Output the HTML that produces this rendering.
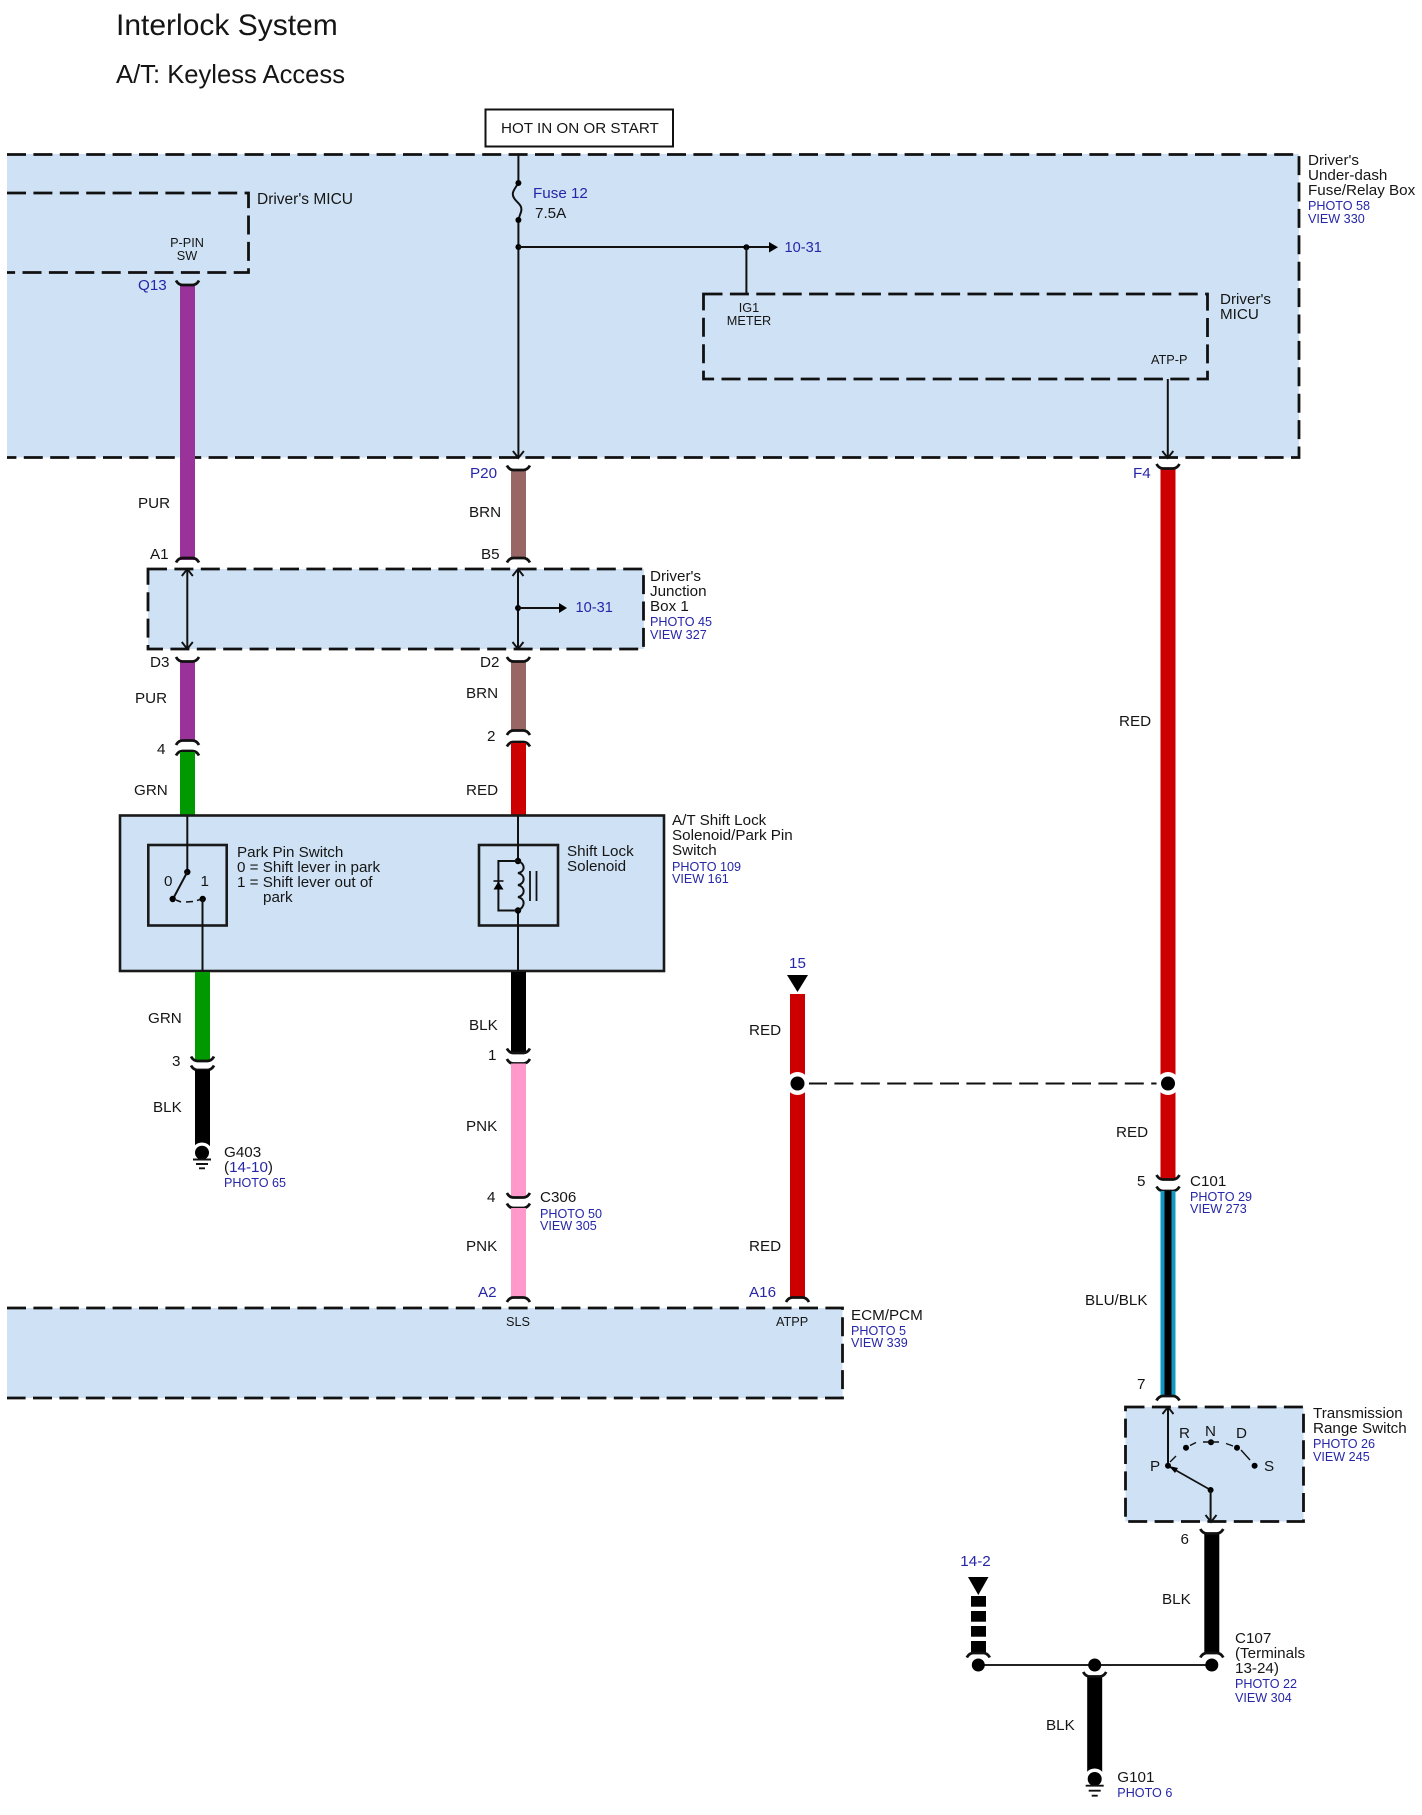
<!DOCTYPE html>
<html><head><meta charset="utf-8"><title>Interlock System</title>
<style>
html,body{margin:0;padding:0;background:#fff}
svg{display:block}
text{font-family:"Liberation Sans",sans-serif;font-size:15.2px;fill:#151515}
.b{fill:#2626a8}
.p{fill:#2626a8;font-size:12.6px}
.s{font-size:12.7px}
.m{text-anchor:middle}
.t{fill:none;stroke:#111;stroke-width:2}
.box{fill:#cfe2f5;stroke:none}
.d{fill:none;stroke:#111;stroke-width:2.8;stroke-dasharray:19 7.4}
.w{stroke:none}
.n{fill:#000}
</style></head><body>
<svg xmlns="http://www.w3.org/2000/svg" width="1422" height="1815" viewBox="0 0 1422 1815">
<defs>
<path id="cu" d="M-11.5,-4.5 Q-9,0 -5,0 H5 Q9,0 11.5,-4.5" fill="none" stroke="#111" stroke-width="2.8"/>
<path id="cd" d="M-11.5,4.5 Q-9,0 -5,0 H5 Q9,0 11.5,4.5" fill="none" stroke="#111" stroke-width="2.8"/>
<path id="au" d="M-5.5,7 L0,0 L5.5,7" fill="none" stroke="#111" stroke-width="1.9"/>
<path id="ad" d="M-5.5,-7 L0,0 L5.5,-7" fill="none" stroke="#111" stroke-width="1.9"/>
</defs>
<rect width="1422" height="1815" fill="#fff"/>

<!-- titles -->
<text x="116" y="35" style="font-size:30px">Interlock System</text>
<text x="116" y="83" style="font-size:25.6px">A/T: Keyless Access</text>

<!-- hot box -->
<rect x="485.5" y="109.5" width="187.5" height="37" fill="#fff" stroke="#111" stroke-width="2"/>
<text x="501" y="133">HOT IN ON OR START</text>

<!-- main box -->
<rect class="box" x="7" y="154" width="1292" height="303.5"/>
<path class="d" d="M7,154.5 H1299 V457.5 H7"/>
<!-- micu left -->
<path class="d" d="M7,193 H248.5 V272.5 H7"/>
<text x="257" y="204" style="font-size:15.5px">Driver's MICU</text>
<text class="s m" x="187" y="247">P-PIN</text>
<text class="s m" x="187" y="260">SW</text>
<!-- micu right -->
<path class="d" d="M703.5,294 H1207.5 V379 H703.5 Z"/>
<text x="1220" y="304">Driver's</text>
<text x="1220" y="319">MICU</text>
<text class="s m" x="749" y="312">IG1</text>
<text class="s m" x="749" y="325">METER</text>
<text class="s" x="1151" y="364">ATP-P</text>

<text x="1308" y="165">Driver's</text>
<text x="1308" y="180">Under-dash</text>
<text x="1308" y="195">Fuse/Relay Box</text>
<text class="p" x="1308" y="210">PHOTO 58</text>
<text class="p" x="1308" y="223">VIEW 330</text>

<!-- lines in main box -->
<path class="t" d="M518.4,154 V183 C514,190 511,193 514,198 C517,203 523,205 521,212 C520,215 519,217 518.4,220 V457"/>
<circle class="n" cx="518.4" cy="183" r="3"/><circle class="n" cx="518.4" cy="220" r="3"/>
<circle class="n" cx="518.4" cy="247" r="3"/>
<use href="#ad" x="518.4" y="458"/>
<path class="t" d="M518.4,247 H770"/>
<path class="n" d="M769,242 L778,247.3 L769,252.5 Z"/>
<circle class="n" cx="746.4" cy="247.3" r="3"/>
<path class="t" d="M746.4,247 V294"/>
<path class="t" d="M1167.8,379 V457"/>
<use href="#ad" x="1167.8" y="458"/>
<text x="533" y="198" class="b">Fuse 12</text>
<text x="535" y="218">7.5A</text>
<text x="784.5" y="252" class="b" style="font-size:14.6px">10-31</text>

<!-- purple wire -->
<rect class="w" x="180" y="284" width="15" height="276" fill="#993399"/>
<use href="#cu" x="187.5" y="285"/>
<use href="#cd" x="187.5" y="558"/>
<text x="138" y="290" class="b">Q13</text>
<text x="138" y="508">PUR</text>
<text x="150" y="559">A1</text>

<!-- brown wire -->
<rect class="w" x="511" y="469" width="15" height="90" fill="#996666"/>
<use href="#cu" x="518.4" y="470"/>
<use href="#cd" x="518.4" y="558"/>
<text x="470" y="478" class="b">P20</text>
<text x="469" y="517">BRN</text>
<text x="481" y="559">B5</text>

<!-- junction box -->
<rect class="box" x="148" y="569" width="496" height="80"/>
<path class="d" d="M148,569 H643.5 V649 H148 Z"/>
<path class="t" d="M187.3,569 V649"/><use href="#au" x="187.3" y="569"/><use href="#ad" x="187.3" y="649"/>
<path class="t" d="M518,569 V649"/><use href="#au" x="518" y="569"/><use href="#ad" x="518" y="649"/>
<circle class="n" cx="518" cy="608" r="3"/>
<path class="t" d="M518,608 H560"/>
<path class="n" d="M559,603 L567,608 L559,613 Z"/>
<text x="575.5" y="612" class="b" style="font-size:14.6px">10-31</text>
<text x="650" y="581">Driver's</text>
<text x="650" y="596">Junction</text>
<text x="650" y="611">Box 1</text>
<text class="p" x="650" y="626">PHOTO 45</text>
<text class="p" x="650" y="639">VIEW 327</text>

<!-- below JB -->
<rect class="w" x="180" y="661" width="15" height="80" fill="#993399"/>
<use href="#cu" x="187.5" y="661.5"/>
<use href="#cd" x="187.5" y="740.5"/>
<use href="#cd" x="187.5" y="751"/>
<rect class="w" x="180" y="752" width="15" height="64" fill="#009900"/>
<text x="150" y="667">D3</text>
<text x="135" y="703">PUR</text>
<text x="157" y="754">4</text>
<text x="134" y="795">GRN</text>

<rect class="w" x="511" y="661" width="15" height="70" fill="#996666"/>
<use href="#cu" x="518.4" y="661.5"/>
<use href="#cd" x="518.4" y="730.5"/>
<use href="#cd" x="518.4" y="742"/>
<rect class="w" x="511" y="743" width="15" height="73" fill="#cc0000"/>
<text x="480" y="667">D2</text>
<text x="466" y="698">BRN</text>
<text x="487" y="741">2</text>
<text x="466" y="795">RED</text>

<!-- solid component box -->
<rect x="120" y="815.5" width="544" height="155.5" fill="#cfe2f5" stroke="#1a1a1a" stroke-width="2.6"/>
<rect x="148.3" y="845" width="78.4" height="80.5" fill="none" stroke="#1a1a1a" stroke-width="2.6"/>
<rect x="479" y="845" width="79" height="80.5" fill="none" stroke="#1a1a1a" stroke-width="2.6"/>
<path class="t" d="M187.3,816 V872"/>
<circle class="n" cx="187.3" cy="872" r="3.2"/>
<path class="t" d="M187.3,872 L174,897"/>
<circle class="n" cx="172.7" cy="899" r="3.2"/>
<path d="M176,900 L181,902 M186,902 L193,901.5 M197,900.5 L202,899" fill="none" stroke="#111" stroke-width="1.6"/>
<circle class="n" cx="202.7" cy="899" r="3.2"/>
<path class="t" d="M202.5,899 V971"/>
<text x="164" y="886">0</text>
<text x="200.5" y="886">1</text>
<text x="237" y="857">Park Pin Switch</text>
<text x="237" y="872">0 = Shift lever in park</text>
<text x="237" y="887">1 = Shift lever out of</text>
<text x="263" y="902">park</text>

<path class="t" d="M518,816 V861 M518,910.5 V971"/>
<circle class="n" cx="518" cy="861" r="3.2"/><circle class="n" cx="518" cy="910.5" r="3.2"/>
<path d="M518,861 C526,864 525,872 518,873 C526,875 525,884 518,885 C526,887 525,896 518,897 C526,899 525,907 518,910.5" fill="none" stroke="#111" stroke-width="2"/>
<path class="t" d="M518,861 H498.4 V910.5 H518"/>
<path class="n" d="M498.4,881.5 L503.5,889.5 H493.5 Z"/>
<path d="M493.5,881 H503.5" stroke="#111" stroke-width="1.6" fill="none"/>
<path d="M530,871 V901 M536.5,871 V901" stroke="#111" stroke-width="1.8" fill="none"/>
<text x="567" y="856">Shift Lock</text>
<text x="567" y="871">Solenoid</text>

<text x="672" y="825">A/T Shift Lock</text>
<text x="672" y="840">Solenoid/Park Pin</text>
<text x="672" y="855">Switch</text>
<text class="p" x="672" y="871">PHOTO 109</text>
<text class="p" x="672" y="883">VIEW 161</text>

<!-- under component: green/black -->
<rect class="w" x="195" y="972" width="15" height="89" fill="#009900"/>
<use href="#cu" x="202.5" y="1061"/>
<use href="#cu" x="202.5" y="1070"/>
<rect class="w" x="195" y="1070" width="15" height="76" fill="#000"/>
<circle cx="202" cy="1153" r="10.5" fill="#fff"/>
<circle class="n" cx="202" cy="1152.7" r="7"/>
<path d="M193,1159.5 H211 M196,1164 H208 M199,1168.3 H205" stroke="#111" stroke-width="1.9" fill="none"/>
<text x="148" y="1023">GRN</text>
<text x="172" y="1066">3</text>
<text x="153" y="1112">BLK</text>
<text x="224" y="1157">G403</text>
<text x="224" y="1172">(<tspan class="b">14-10</tspan>)</text>
<text class="p" x="224" y="1187">PHOTO 65</text>

<!-- black/pink -->
<rect class="w" x="511" y="972" width="15" height="81" fill="#000"/>
<use href="#cu" x="518.4" y="1053"/>
<use href="#cu" x="518.4" y="1063.5"/>
<rect class="w" x="511" y="1063.5" width="15" height="134" fill="#ff99cc"/>
<use href="#cu" x="518.4" y="1197.5"/>
<use href="#cu" x="518.4" y="1208"/>
<rect class="w" x="511" y="1208" width="15" height="90" fill="#ff99cc"/>
<use href="#cd" x="518.4" y="1297.5"/>
<text x="469" y="1030">BLK</text>
<text x="488" y="1060">1</text>
<text x="466" y="1131">PNK</text>
<text x="487" y="1202">4</text>
<text x="540" y="1202">C306</text>
<text class="p" x="540" y="1218">PHOTO 50</text>
<text class="p" x="540" y="1230">VIEW 305</text>
<text x="466" y="1251">PNK</text>
<text x="478" y="1297" class="b">A2</text>

<!-- ECM -->
<rect class="box" x="7" y="1308" width="835.5" height="90"/>
<path class="d" d="M7,1308 H842.5 V1398 H7"/>
<text class="s m" x="518" y="1326">SLS</text>
<text class="s" x="776" y="1326">ATPP</text>
<text x="851" y="1320">ECM/PCM</text>
<text class="p" x="851" y="1335">PHOTO 5</text>
<text class="p" x="851" y="1347">VIEW 339</text>

<!-- red left -->
<text class="b m" x="797.5" y="968">15</text>
<path class="n" d="M787,975 H808 L797.5,992 Z"/>
<rect class="w" x="790" y="994" width="15" height="304" fill="#cc0000"/>
<use href="#cd" x="797.5" y="1297.5"/>
<text x="749" y="1035">RED</text>
<text x="749" y="1251">RED</text>
<text x="749" y="1297" class="b">A16</text>

<!-- red right -->
<rect class="w" x="1160.5" y="468" width="15" height="711" fill="#cc0000"/>
<use href="#cu" x="1168" y="468.5"/>
<text x="1133" y="478" class="b">F4</text>
<text x="1119" y="726">RED</text>
<text x="1116" y="1137">RED</text>
<text x="1137" y="1186">5</text>
<use href="#cu" x="1168" y="1179.5"/>
<use href="#cu" x="1168" y="1191"/>
<text x="1190" y="1186">C101</text>
<text class="p" x="1190" y="1201">PHOTO 29</text>
<text class="p" x="1190" y="1213">VIEW 273</text>

<!-- dashed link -->
<path d="M808,1083.5 H1158" fill="none" stroke="#111" stroke-width="2" stroke-dasharray="19 7.4"/>
<circle cx="797.5" cy="1083.5" r="11.5" fill="#fff"/><circle class="n" cx="797.5" cy="1083.5" r="7"/>
<circle cx="1168" cy="1083.5" r="11.5" fill="#fff"/><circle class="n" cx="1168" cy="1083.5" r="7"/>

<!-- blu/blk -->
<rect class="w" x="1160.5" y="1191" width="15" height="205" fill="#1199c4"/>
<rect class="w" x="1164.5" y="1191" width="7" height="205" fill="#000"/>
<use href="#cd" x="1168" y="1396"/>
<text x="1085" y="1305">BLU/BLK</text>
<text x="1137" y="1389">7</text>

<!-- TRS -->
<rect class="box" x="1125.5" y="1407" width="178" height="114.5"/>
<path class="d" d="M1125.5,1407 H1303.5 V1521.5 H1125.5 Z"/>
<path class="t" d="M1168,1407 V1466"/><use href="#au" x="1168" y="1407"/>
<circle class="n" cx="1168" cy="1465.7" r="3"/>
<circle class="n" cx="1186" cy="1447.7" r="3"/>
<circle class="n" cx="1211" cy="1442.3" r="3"/>
<circle class="n" cx="1237" cy="1447.7" r="3"/>
<circle class="n" cx="1254.6" cy="1465.7" r="3"/>
<path d="M1170,1462 L1176,1456 M1190,1445.5 L1196,1442.5 M1203,1442 H1219 M1226,1443.5 L1233,1446 M1241,1450 L1250,1460" fill="none" stroke="#111" stroke-width="1.4"/>
<path d="M1170,1467 L1210.6,1490" fill="none" stroke="#111" stroke-width="1.7"/>
<path class="n" d="M1169,1466 L1178,1468 L1175,1473 Z"/>
<circle class="n" cx="1210.6" cy="1490" r="3"/>
<path class="t" d="M1210.6,1490 V1521"/><use href="#ad" x="1211" y="1522"/>
<text x="1150" y="1471">P</text>
<text x="1179" y="1438">R</text>
<text x="1205" y="1436">N</text>
<text x="1236" y="1438">D</text>
<text x="1264" y="1471">S</text>
<text x="1313" y="1418">Transmission</text>
<text x="1313" y="1433">Range Switch</text>
<text class="p" x="1313" y="1448">PHOTO 26</text>
<text class="p" x="1313" y="1461">VIEW 245</text>

<!-- blk bottom -->
<rect class="w" x="1204.3" y="1533" width="15" height="121" fill="#000"/>
<use href="#cu" x="1211.8" y="1533.5"/>
<use href="#cd" x="1211.8" y="1653"/>
<path d="M978.3,1665 H1211.8" stroke="#222" stroke-width="2" fill="none"/>
<circle class="n" cx="1211.8" cy="1665" r="6.5"/>
<circle class="n" cx="1094.7" cy="1665" r="6.5"/>
<circle class="n" cx="978.3" cy="1665" r="6.5"/>
<text x="1180.5" y="1544">6</text>
<text x="1162" y="1604">BLK</text>
<text x="1235" y="1643">C107</text>
<text x="1235" y="1658">(Terminals</text>
<text x="1235" y="1673">13-24)</text>
<text class="p" x="1235" y="1688">PHOTO 22</text>
<text class="p" x="1235" y="1702">VIEW 304</text>

<text class="b m" x="975.5" y="1566">14-2</text>
<path class="n" d="M968,1577 H988.5 L978.3,1595 Z"/>
<rect class="w" x="971" y="1596" width="15" height="10.7" fill="#000"/>
<rect class="w" x="971" y="1611" width="15" height="10.7" fill="#000"/>
<rect class="w" x="971" y="1626" width="15" height="10.7" fill="#000"/>
<rect class="w" x="971" y="1641" width="15" height="13" fill="#000"/>
<use href="#cd" x="978.3" y="1653"/>

<rect class="w" x="1087.2" y="1676" width="15" height="96" fill="#000"/>
<use href="#cu" x="1094.7" y="1676.5"/>
<circle cx="1094.7" cy="1779" r="10.5" fill="#fff"/>
<circle class="n" cx="1094.7" cy="1779" r="7"/>
<path d="M1085.7,1785.7 H1103.7 M1088.7,1790.7 H1100.7 M1091.7,1795.7 H1097.7" stroke="#111" stroke-width="1.9" fill="none"/>
<text x="1046" y="1730">BLK</text>
<text x="1117.3" y="1782">G101</text>
<text class="p" x="1117.3" y="1797">PHOTO 6</text>
</svg>
</body></html>
